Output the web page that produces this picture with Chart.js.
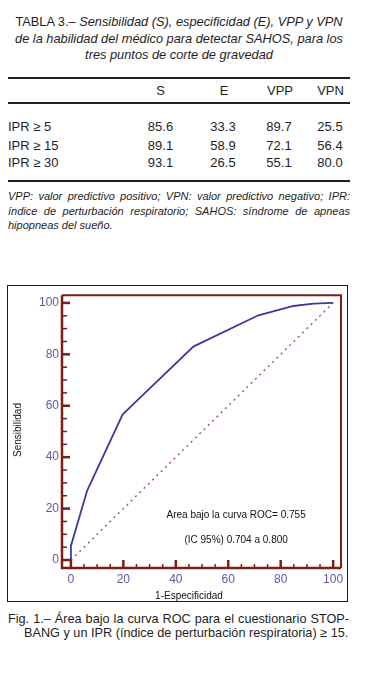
<!DOCTYPE html>
<html>
<head>
<meta charset="utf-8">
<script src="https://cdn.jsdelivr.net/npm/chart.js@4.4.1/dist/chart.umd.min.js"></script>
<style>
  html,body{margin:0;padding:0;background:#fff;}
  body{width:375px;height:675px;position:relative;overflow:hidden;font-family:"Liberation Sans",Arial,sans-serif;color:#1e1e1e;}
  .abs{position:absolute;white-space:nowrap;}
  .title{left:8px;width:342px;text-align:center;font-size:12.8px;line-height:16.5px;}
  .rule{position:absolute;left:8px;width:342px;background:#1e1e1e;}
  .cell{position:absolute;font-size:13px;line-height:18px;width:50px;text-align:center;}
  .lab{position:absolute;left:8px;font-size:13px;line-height:18px;}
  .foot{position:absolute;left:8px;width:342px;font-size:11px;line-height:14.3px;font-style:italic;text-align:justify;text-align-last:justify;white-space:nowrap;}
  .cap{position:absolute;left:8px;width:341px;font-size:12.7px;line-height:14px;white-space:nowrap;}
  #box{position:absolute;left:7px;top:285px;width:341px;height:317px;border:1.5px solid #1a1a1a;box-sizing:border-box;}
  #c{position:absolute;left:7px;top:285px;}
</style>
</head>
<body>
<div class="abs title" style="top:14px"><span style="font-style:normal">TABLA 3.– </span><i>Sensibilidad (S), especificidad (E), VPP y VPN</i></div>
<div class="abs title" style="top:30.5px"><i>de la habilidad del médico para detectar SAHOS, para los</i></div>
<div class="abs title" style="top:47px"><i>tres puntos de corte de gravedad</i></div>

<div class="rule" style="top:77px;height:2px"></div>
<div class="cell" style="left:135.5px;top:82px">S</div>
<div class="cell" style="left:199px;top:82px">E</div>
<div class="cell" style="left:255px;top:82px">VPP</div>
<div class="cell" style="left:305.5px;top:82px">VPN</div>
<div class="rule" style="top:102px;height:1.6px"></div>

<div id="rows"></div>

<div class="rule" style="top:179.5px;height:2.5px"></div>

<div class="foot" style="top:189px">VPP: valor predictivo positivo; VPN: valor predictivo negativo; IPR:</div>
<div class="foot" style="top:203.5px">índice de perturbación respiratorio; SAHOS: síndrome de apneas</div>
<div class="foot" style="top:217.5px;text-align:left;text-align-last:left">hipopneas del sueño.</div>

<div id="box"></div>
<canvas id="c" width="341" height="317"></canvas>

<div class="cap" style="top:612px;text-align:justify;text-align-last:justify">Fig. 1.– Área bajo la curva ROC para el cuestionario STOP-</div>
<div class="cap" style="top:626px;left:24px;width:324px">BANG y un IPR (índice de perturbación respiratoria) ≥ 15.</div>

<script>
// ---- Table data ----
const tableRows = ["IPR ≥ 5", "IPR ≥ 15", "IPR ≥ 30"];
const colS   = ["85.6", "89.1", "93.1"];
const colE   = ["33.3", "58.9", "26.5"];
const colVPP = ["89.7", "72.1", "55.1"];
const colVPN = ["25.5", "56.4", "80.0"];

// ---- Chart data (ROC curve) ----
const rocX = [0, 0, 6.2, 19.7, 25.5, 46.7, 71.5, 84.9, 92.5, 100];
const rocY = [0, 5.5, 27, 56.6, 62.3, 83, 95.2, 98.8, 99.7, 100];
const diagX = [0, 100];
const diagY = [0, 100];
const xTickValues = [0, 20, 40, 60, 80, 100];
const yTickValues = [0, 20, 40, 60, 80, 100];
const aucText = "Area bajo la curva ROC= 0.755";
const ciText = "(IC 95%) 0.704 a 0.800";
const xTitle = "1-Especificidad";
const yTitle = "Sensibilidad";

// build table rows
(function(){
  const rowTops = [117.7, 136.7, 154.3];
  const cols = [colS, colE, colVPP, colVPN];
  const lefts = [135.5, 198, 254, 305];
  const host = document.getElementById('rows');
  tableRows.forEach((lab, i) => {
    const d = document.createElement('div');
    d.className = 'lab'; d.style.top = rowTops[i] + 'px'; d.textContent = lab;
    host.appendChild(d);
    cols.forEach((col, j) => {
      const c = document.createElement('div');
      c.className = 'cell'; c.style.left = lefts[j] + 'px'; c.style.top = rowTops[i] + 'px';
      c.textContent = col[i];
      host.appendChild(c);
    });
  });
})();

const MAROON = '#7a1f16';
const framePlugin = {
  id: 'frame',
  afterDatasetsDraw(chart) {
    const {ctx, chartArea: a, scales: {x, y}} = chart;
    ctx.save();
    ctx.strokeStyle = MAROON;
    ctx.lineWidth = 2;
    ctx.beginPath();
    ctx.moveTo(a.left, a.top); ctx.lineTo(a.right, a.top); ctx.lineTo(a.right, a.bottom);
    ctx.stroke();
    ctx.lineWidth = 2.5;
    ctx.beginPath();
    ctx.moveTo(a.left, a.top); ctx.lineTo(a.left, a.bottom); ctx.lineTo(a.right, a.bottom);
    ctx.stroke();
    for (let v = 0; v <= 100; v += 5) {
      const major = v % 20 === 0;
      const py = y.getPixelForValue(v);
      ctx.lineWidth = major ? 2.5 : 1.5;
      ctx.beginPath();
      ctx.moveTo(a.left, py); ctx.lineTo(a.left + (major ? 8 : 5), py);
      ctx.stroke();
      const px = x.getPixelForValue(v);
      ctx.beginPath();
      ctx.moveTo(px, a.bottom); ctx.lineTo(px, a.bottom - (major ? 8 : 4));
      ctx.stroke();
    }
    ctx.restore();
  },
  afterDraw(chart) {
    const {ctx, scales: {x, y}} = chart;
    ctx.save();
    ctx.fillStyle = '#111';
    ctx.font = '10px "Liberation Sans", Arial, sans-serif';
    ctx.textAlign = 'center';
    ctx.textBaseline = 'middle';
    ctx.fillText(aucText, x.getPixelForValue(63), y.getPixelForValue(17.4));
    ctx.fillText(ciText, x.getPixelForValue(63), y.getPixelForValue(7.5));
    ctx.fillText(xTitle, 182, 311);
    ctx.translate(11, 145);
    ctx.rotate(-Math.PI / 2);
    ctx.fillText(yTitle, 0, 0);
    ctx.restore();
  }
};

const tickFont = {family: '"Liberation Sans", Arial, sans-serif', size: 12};
const tickColor = '#5a5aa0';

new Chart(document.getElementById('c'), {
  type: 'scatter',
  data: {
    datasets: [
      {
        data: rocX.map((v, i) => ({x: v, y: rocY[i]})),
        showLine: true, borderColor: '#3b3b9c', borderWidth: 1.8,
        pointRadius: 0, tension: 0, fill: false
      },
      {
        data: diagX.map((v, i) => ({x: v, y: diagY[i]})),
        showLine: true, borderColor: '#a4553c', borderWidth: 1.4, borderDash: [2, 4],
        pointRadius: 0, tension: 0, fill: false
      }
    ]
  },
  options: {
    responsive: false,
    animation: false,
    devicePixelRatio: 1,
    layout: {padding: {top: 8, right: 7, left: 0, bottom: 0}},
    plugins: {legend: {display: false}, tooltip: {enabled: false}},
    scales: {
      x: {
        type: 'linear', min: -3.4, max: 103,
        grid: {display: false, drawTicks: false}, border: {display: false},
        afterBuildTicks: s => { s.ticks = xTickValues.map(v => ({value: v})); },
        afterFit: s => { s.height = 34; },
        ticks: {color: tickColor, font: tickFont, padding: 4, maxRotation: 0, autoSkip: false}
      },
      y: {
        type: 'linear', min: -3.1, max: 103,
        grid: {display: false, drawTicks: false}, border: {display: false},
        afterBuildTicks: s => { s.ticks = yTickValues.map(v => ({value: v})); },
        afterFit: s => { s.width = 55; },
        ticks: {color: tickColor, font: tickFont, padding: 3, autoSkip: false}
      }
    }
  },
  plugins: [framePlugin]
});
</script>
</body>
</html>
